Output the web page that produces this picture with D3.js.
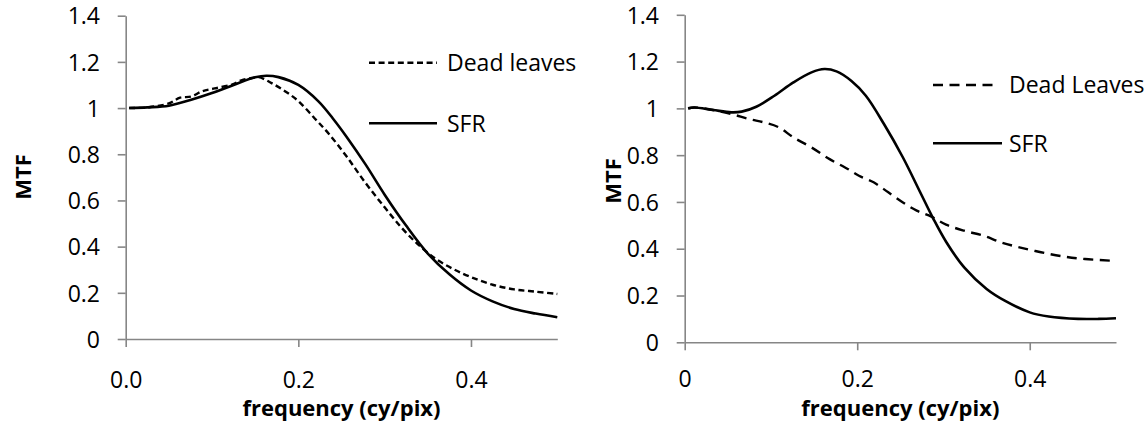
<!DOCTYPE html>
<html>
<head>
<meta charset="utf-8">
<script src="https://cdn.jsdelivr.net/npm/d3@7"></script>
<style>
  html, body { margin: 0; padding: 0; background: #fff; }
  svg { display: block; }
  text { font-family: "Open Sans", "Noto Sans", sans-serif; fill: #000; }
</style>
</head>
<body>
<svg id="chart" width="1146" height="425"></svg>
<script>
// ---------- data ----------
const xTickValues = [0, 0.2, 0.4];
const xTickLabelsLeft = ["0.0", "0.2", "0.4"];
const xTickLabelsRight = ["0", "0.2", "0.4"];
const yTickValues = [0, 0.2, 0.4, 0.6, 0.8, 1, 1.2, 1.4];
const yTickLabels = ["0", "0.2", "0.4", "0.6", "0.8", "1", "1.2", "1.4"];

// left panel
const leftSfrFreq = [0.004, 0.025, 0.05, 0.075, 0.1, 0.125, 0.15, 0.163, 0.177, 0.2, 0.223, 0.24, 0.256, 0.278, 0.3, 0.325, 0.35, 0.375, 0.4, 0.425, 0.45, 0.475, 0.5];
const leftSfrMtf  = [1.0, 1.003, 1.01, 1.035, 1.065, 1.1, 1.133, 1.14, 1.134, 1.1, 1.03, 0.955, 0.875, 0.755, 0.625, 0.49, 0.37, 0.28, 0.21, 0.163, 0.13, 0.11, 0.094];
const leftDlFreq  = [0.004, 0.025, 0.05, 0.063, 0.076, 0.088, 0.103, 0.123, 0.134, 0.146, 0.154, 0.169, 0.185, 0.2, 0.219, 0.235, 0.256, 0.278, 0.3, 0.32, 0.34, 0.36, 0.38, 0.4, 0.425, 0.45, 0.475, 0.5];
const leftDlMtf   = [1.0, 1.003, 1.02, 1.045, 1.05, 1.072, 1.085, 1.102, 1.12, 1.13, 1.134, 1.108, 1.072, 1.03, 0.955, 0.89, 0.79, 0.675, 0.57, 0.48, 0.405, 0.345, 0.302, 0.268, 0.235, 0.215, 0.205, 0.195];

// right panel
const rightSfrFreq = [0.004, 0.011, 0.033, 0.054, 0.066, 0.083, 0.104, 0.126, 0.147, 0.162, 0.176, 0.193, 0.21, 0.231, 0.253, 0.274, 0.288, 0.303, 0.324, 0.35, 0.371, 0.4, 0.422, 0.456, 0.48, 0.5];
const rightSfrMtf  = [1.0, 1.004, 0.993, 0.983, 0.986, 1.007, 1.054, 1.111, 1.154, 1.168, 1.158, 1.118, 1.054, 0.933, 0.79, 0.634, 0.53, 0.43, 0.32, 0.228, 0.178, 0.128, 0.11, 0.1, 0.1, 0.103];
const rightDlFreq  = [0.004, 0.011, 0.033, 0.054, 0.075, 0.092, 0.109, 0.126, 0.147, 0.168, 0.189, 0.202, 0.219, 0.236, 0.253, 0.269, 0.286, 0.303, 0.324, 0.346, 0.367, 0.388, 0.413, 0.439, 0.464, 0.494];
const rightDlMtf   = [1.0, 1.004, 0.993, 0.976, 0.954, 0.94, 0.919, 0.876, 0.833, 0.783, 0.741, 0.712, 0.684, 0.641, 0.598, 0.563, 0.537, 0.503, 0.477, 0.456, 0.427, 0.406, 0.385, 0.367, 0.356, 0.349];

const seriesNames = ["Dead leaves", "SFR"];
const seriesNamesRight = ["Dead Leaves", "SFR"];

// ---------- drawing ----------
const svg = d3.select("#chart");
const axisColor = "#868686";
const tickFont = 23;
const titleFont = 22;

function panel(cfg) {
  const x = d3.scaleLinear().domain([0, 0.5]).range(cfg.xRange);
  const y = d3.scaleLinear().domain([0, 1.4]).range(cfg.yRange);
  const g = svg.append("g");

  const ya = g.append("g")
    .attr("transform", `translate(${cfg.xRange[0]},0)`)
    .call(d3.axisLeft(y).tickValues(yTickValues)
      .tickFormat((d, i) => yTickLabels[i]).tickSize(8).tickSizeOuter(0).tickPadding(17.7));
  const xa = g.append("g")
    .attr("transform", `translate(0,${cfg.yRange[0]})`)
    .call(d3.axisBottom(x).tickValues(xTickValues)
      .tickFormat((d, i) => cfg.xLabels[i]).tickSize(8).tickSizeOuter(0).tickPadding(0));
  [ya, xa].forEach(a => {
    a.select(".domain").attr("stroke", axisColor).attr("stroke-width", 1.6);
    a.selectAll(".tick line").attr("stroke", axisColor).attr("stroke-width", 1.6);
    a.selectAll("text").style("font-size", tickFont + "px")
      .style("font-family", '"Open Sans", "Noto Sans", sans-serif').attr("fill", "#000");
  });
  ya.selectAll("text").attr("dy", "0.357em");
  xa.selectAll("text").attr("y", cfg.xLabelY).attr("dy", 0);

  const line = d3.line().x(d => x(d[0])).y(d => y(d[1])).curve(d3.curveCatmullRom.alpha(0.5));
  const dl = cfg.dlFreq.map((f, i) => [f, cfg.dlMtf[i]]);
  const sfr = cfg.sfrFreq.map((f, i) => [f, cfg.sfrMtf[i]]);
  g.append("path").datum(dl).attr("d", line).attr("fill", "none")
    .attr("stroke", "#000").attr("stroke-width", 2.4).attr("stroke-dasharray", cfg.dash);
  g.append("path").datum(sfr).attr("d", line).attr("fill", "none")
    .attr("stroke", "#000").attr("stroke-width", 2.6);

  g.append("text").attr("x", (cfg.xRange[0] + cfg.xRange[1]) / 2).attr("y", 416)
    .attr("text-anchor", "middle").style("font-size", titleFont + "px").style("font-weight", "bold")
    .text("frequency (cy/pix)");
  g.append("text").attr("transform", `translate(${cfg.mtfX},${cfg.mtfY}) rotate(-90)`)
    .attr("text-anchor", "middle").style("font-size", titleFont + "px").style("font-weight", "bold")
    .text("MTF");

  const L = cfg.legend;
  g.append("line").attr("x1", L.x1).attr("x2", L.x2dash).attr("y1", L.y1).attr("y2", L.y1)
    .attr("stroke", "#000").attr("stroke-width", 2.4).attr("stroke-dasharray", cfg.dash);
  g.append("line").attr("x1", L.x1).attr("x2", L.x2solid).attr("y1", L.y2).attr("y2", L.y2)
    .attr("stroke", "#000").attr("stroke-width", 2.6);
  g.append("text").attr("x", L.tx).attr("y", L.y1).attr("dy", "0.357em")
    .style("font-size", tickFont + "px").text(cfg.names[0]);
  g.append("text").attr("x", L.tx).attr("y", L.y2).attr("dy", "0.357em")
    .style("font-size", tickFont + "px").text(cfg.names[1]);
}

panel({
  xRange: [125.7, 557.3], yRange: [339, 15.7], xLabels: xTickLabelsLeft, xLabelY: 49,
  sfrFreq: leftSfrFreq, sfrMtf: leftSfrMtf, dlFreq: leftDlFreq, dlMtf: leftDlMtf,
  dash: "6,3.6", mtfX: 30.5, mtfY: 177, names: seriesNames,
  legend: { x1: 369, x2dash: 437, x2solid: 437, y1: 62.7, y2: 123.3, tx: 447 }
});
panel({
  xRange: [684.7, 1116], yRange: [342.3, 14.8], xLabels: xTickLabelsRight, xLabelY: 45,
  sfrFreq: rightSfrFreq, sfrMtf: rightSfrMtf, dlFreq: rightDlFreq, dlMtf: rightDlMtf,
  dash: "10,6.5", mtfX: 621, mtfY: 181, names: seriesNamesRight,
  legend: { x1: 933, x2dash: 997, x2solid: 1002, y1: 85, y2: 143.3, tx: 1009 }
});
</script>
</body>
</html>
